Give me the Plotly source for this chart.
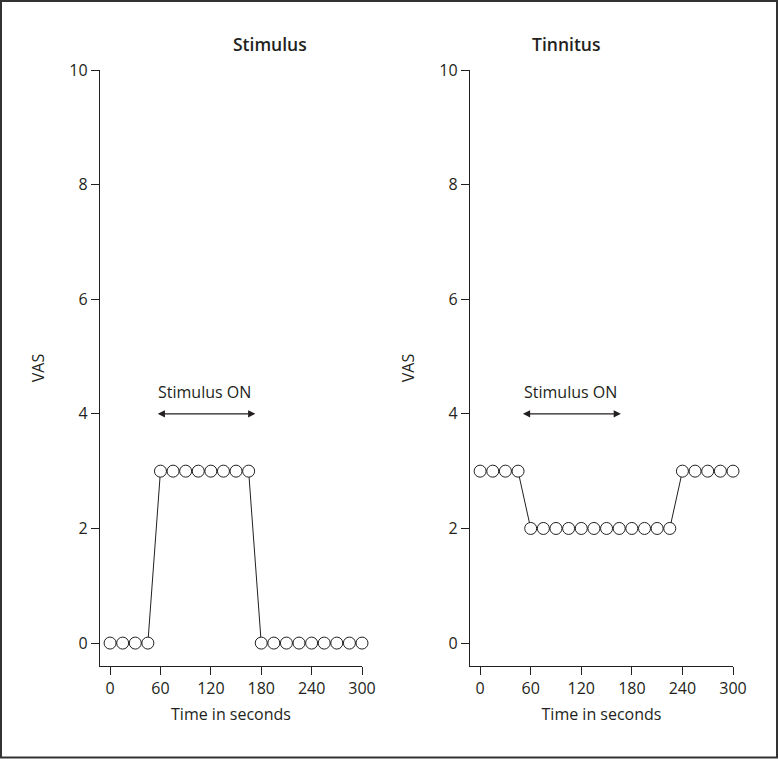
import plotly.graph_objects as go

# Data
stim_t = [0, 15, 30, 45, 60, 75, 90, 105, 120, 135, 150, 165,
          180, 195, 210, 225, 240, 255, 270, 285, 300]
stim_vas = [0, 0, 0, 0, 3, 3, 3, 3, 3, 3, 3, 3,
            0, 0, 0, 0, 0, 0, 0, 0, 0]
tinn_t = [0, 15, 30, 45, 60, 75, 90, 105, 120, 135, 150, 165, 180, 195, 210, 225,
          240, 255, 270, 285, 300]
tinn_vas = [3, 3, 3, 3, 2, 2, 2, 2, 2, 2, 2, 2, 2, 2, 2, 2,
            3, 3, 3, 3, 3]
x_ticks = [0, 60, 120, 180, 240, 300]
y_ticks = [0, 2, 4, 6, 8, 10]
panel_titles = ["Stimulus", "Tinnitus"]
arrow_left = [(55, 173), (49, 167)]
label_x = [113, 107]

FONT = "Open Sans, Noto Sans, sans-serif"
INK = "#231f20"

fig = go.Figure()

marker = dict(symbol="circle", size=12, color="white", line=dict(color=INK, width=1))
fig.add_trace(go.Scatter(x=stim_t, y=stim_vas, mode="lines+markers",
                         line=dict(color=INK, width=1), marker=marker, cliponaxis=False,
                         xaxis="x", yaxis="y", showlegend=False))
fig.add_trace(go.Scatter(x=tinn_t, y=tinn_vas, mode="lines+markers",
                         line=dict(color=INK, width=1), marker=marker, cliponaxis=False,
                         xaxis="x2", yaxis="y2", showlegend=False))

W, H = 779, 759
xd1 = [100 / W, 362 / W]
xd2 = [470 / W, 733 / W]
yd = [1 - 666 / H, 1 - 70 / H]

axis_common = dict(showgrid=False, zeroline=False, showline=True, linecolor=INK,
                   linewidth=1.3, ticks="outside", ticklen=8, tickwidth=1.3, automargin=False,
                   tickcolor=INK, tickfont=dict(family=FONT, size=16, color=INK))
title_font = dict(family=FONT, size=16, color=INK)

fig.update_layout(
    template="none",
    width=W, height=H,
    margin=dict(l=0, r=0, t=0, b=0, pad=0, autoexpand=False),
    paper_bgcolor="white", plot_bgcolor="white",
    font=dict(family=FONT, color=INK),
    xaxis=dict(domain=xd1, range=[-12, 300], tickvals=x_ticks, anchor="y",
               title=dict(text="Time in seconds", font=title_font, standoff=10),
               **axis_common),
    yaxis=dict(domain=yd, range=[-0.4, 10], tickvals=y_ticks, anchor="x",
               title=dict(text="VAS", font=title_font, standoff=20),
               **axis_common),
    xaxis2=dict(domain=xd2, range=[-12, 300], tickvals=x_ticks, anchor="y2",
                title=dict(text="Time in seconds", font=title_font, standoff=10),
                **axis_common),
    yaxis2=dict(domain=yd, range=[-0.4, 10], tickvals=y_ticks, anchor="x2",
                title=dict(text="VAS", font=title_font, standoff=20),
                **axis_common),
)

annotations = []
for i, (xr, yr) in enumerate([("x", "y"), ("x2", "y2")]):
    a0, a1 = arrow_left[i]
    annotations.append(dict(x=a1, y=4, ax=a0, ay=4, xref=xr, yref=yr, axref=xr, ayref=yr,
                            text="", showarrow=True, arrowhead=2, arrowside="end+start",
                            arrowsize=1.2, arrowwidth=1.2, arrowcolor=INK))
    annotations.append(dict(x=label_x[i], y=4.38, xref=xr, yref=yr, text="Stimulus ON",
                            showarrow=False, yanchor="middle",
                            font=dict(family=FONT, size=16, color=INK)))
    dom = xd1 if i == 0 else xd2
    annotations.append(dict(x=(dom[0] + dom[1]) / 2, y=1 - 44 / H, xref="paper", yref="paper",
                            text=panel_titles[i], showarrow=False, yanchor="middle",
                            font=dict(family=FONT, size=17.5, color=INK, weight=600)))
fig.update_layout(annotations=annotations)

fig.add_shape(type="rect", xref="paper", yref="paper", x0=1 / W, y0=1.5 / H, x1=1 - 2 / W, y1=1 - 1 / H,
              line=dict(color="#333333", width=2))

post = (
    "document.documentElement.style.margin='0';"
    "document.documentElement.style.overflow='hidden';"
    "document.body.style.margin='0';document.body.style.padding='0';"
    "document.body.style.overflow='hidden';"
    "var gd=document.getElementById('{plot_id}');"
    "gd.style.position='fixed';gd.style.left='0px';gd.style.top='0px';"
)
fig.write_html("out.html", post_script=post, config={"displayModeBar": False})
